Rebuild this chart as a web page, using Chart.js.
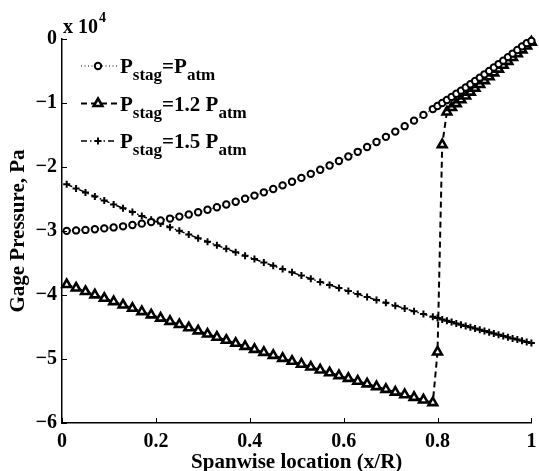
<!DOCTYPE html>
<html>
<head>
<meta charset="utf-8">
<script src="https://cdn.jsdelivr.net/npm/chart.js@4"></script>
<style>
  html, body { margin: 0; padding: 0; background: #fff; }
  #wrap { width: 539px; height: 471px; position: relative; }
</style>
</head>
<body>
<div id="wrap"><canvas id="chart"></canvas></div>
<script>
// spanwise stations (x/R)
const spanX = [
  0.01, 0.03, 0.05, 0.07, 0.09, 0.11, 0.13, 0.15, 0.17, 0.19,
  0.21, 0.23, 0.25, 0.27, 0.29, 0.31, 0.33, 0.35, 0.37, 0.39,
  0.41, 0.43, 0.45, 0.47, 0.49, 0.51, 0.53, 0.55, 0.57, 0.59,
  0.61, 0.63, 0.65, 0.67, 0.69, 0.71, 0.73, 0.75, 0.77, 0.79,
  0.80, 0.81, 0.82, 0.83, 0.84, 0.85, 0.86, 0.87, 0.88, 0.89,
  0.90, 0.91, 0.92, 0.93, 0.94, 0.95, 0.96, 0.97, 0.98, 0.99, 1.00
];

// gage pressure, units of 10^4 Pa
const pStagAtm = [
  -2.998, -2.991, -2.983, -2.972, -2.959, -2.944, -2.927, -2.907, -2.885, -2.861,
  -2.835, -2.806, -2.775, -2.742, -2.707, -2.669, -2.629, -2.587, -2.543, -2.496,
  -2.447, -2.396, -2.343, -2.287, -2.230, -2.170, -2.107, -2.043, -1.976, -1.907,
  -1.836, -1.763, -1.687, -1.609, -1.529, -1.447, -1.362, -1.275, -1.186, -1.095,
  -1.048, -1.001, -0.953, -0.905, -0.856, -0.807, -0.757, -0.707, -0.656, -0.604,
  -0.552, -0.499, -0.446, -0.392, -0.338, -0.283, -0.228, -0.171, -0.115, -0.065, -0.030
];

const pStag12 = [
  -3.837, -3.891, -3.945, -3.998, -4.051, -4.104, -4.156, -4.208, -4.259, -4.310,
  -4.361, -4.412, -4.462, -4.512, -4.561, -4.610, -4.659, -4.707, -4.755, -4.803,
  -4.850, -4.897, -4.943, -4.990, -5.035, -5.081, -5.126, -5.171, -5.215, -5.259,
  -5.303, -5.347, -5.389, -5.432, -5.475, -5.517, -5.558, -5.599, -5.640, -5.681,
  -4.890, -1.650, -1.140, -1.070, -1.010, -0.950, -0.890, -0.830, -0.770, -0.710,
  -0.650, -0.590, -0.530, -0.470, -0.410, -0.350, -0.290, -0.230, -0.170, -0.110, -0.050
];

const pStag15 = [
  -2.270, -2.334, -2.397, -2.460, -2.522, -2.584, -2.644, -2.705, -2.765, -2.824,
  -2.883, -2.941, -2.998, -3.055, -3.112, -3.168, -3.223, -3.278, -3.332, -3.386,
  -3.439, -3.491, -3.543, -3.595, -3.646, -3.696, -3.746, -3.795, -3.843, -3.891,
  -3.939, -3.986, -4.032, -4.078, -4.123, -4.167, -4.211, -4.255, -4.298, -4.340,
  -4.361, -4.382, -4.403, -4.423, -4.444, -4.464, -4.484, -4.504, -4.524, -4.544,
  -4.563, -4.583, -4.602, -4.621, -4.640, -4.659, -4.678, -4.696, -4.715, -4.733, -4.751
];

const xTicks = [0, 0.2, 0.4, 0.6, 0.8, 1];
const xTickLabels = ['0', '0.2', '0.4', '0.6', '0.8', '1'];
const yTicks = [-6, -5, -4, -3, -2, -1, 0];
const yTickLabels = ['\u22126', '\u22125', '\u22124', '\u22123', '\u22122', '\u22121', '0'];

// legend text pieces: [text, isSubscript]
const legendParts = [
  [['P', false], ['stag', true], ['=P', false], ['atm', true]],
  [['P', false], ['stag', true], ['=1.2 P', false], ['atm', true]],
  [['P', false], ['stag', true], ['=1.5 P', false], ['atm', true]]
];

const serif = "'Liberation Serif', 'Times New Roman', serif";
const mainFont = 'bold 21px ' + serif;
const subFont = 'bold 17px ' + serif;

const toPts = arr => arr.map((v, i) => ({ x: spanX[i], y: v }));

function drawMarker(ctx, style, r, x, y) {
  ctx.beginPath();
  if (style === 'circle') {
    ctx.arc(x, y, r, 0, Math.PI * 2);
    ctx.fill(); ctx.stroke();
  } else if (style === 'triangle') {
    for (let k = 0; k < 3; k++) {
      const a = k * 2 * Math.PI / 3;
      const px = x + Math.sin(a) * r, py = y - Math.cos(a) * r;
      k ? ctx.lineTo(px, py) : ctx.moveTo(px, py);
    }
    ctx.closePath();
    ctx.fill(); ctx.stroke();
  } else {
    ctx.moveTo(x - r, y); ctx.lineTo(x + r, y);
    ctx.moveTo(x, y - r); ctx.lineTo(x, y + r);
    ctx.stroke();
  }
}

// inward tick marks, legend with subscripts, x 10^4 multiplier
const decorPlugin = {
  id: 'decor',
  afterDraw(chart) {
    const { ctx, chartArea: a, scales } = chart;
    ctx.save();
    ctx.strokeStyle = '#000';
    ctx.lineWidth = 1;
    yTicks.forEach(v => {
      const py = Math.round(scales.y.getPixelForValue(v)) + 0.5;
      ctx.beginPath(); ctx.moveTo(a.left, py); ctx.lineTo(a.left + 5, py); ctx.stroke();
    });
    xTicks.forEach(v => {
      const px = Math.round(scales.x.getPixelForValue(v)) + 0.5;
      ctx.beginPath(); ctx.moveTo(px, a.bottom); ctx.lineTo(px, a.bottom - 5); ctx.stroke();
    });

    // multiplier
    ctx.fillStyle = '#000';
    ctx.textBaseline = 'alphabetic';
    ctx.font = 'bold 20px ' + serif;
    ctx.fillText('x 10', 63, 33);
    const w = ctx.measureText('x 10').width;
    ctx.font = 'bold 14px ' + serif;
    ctx.fillText('4', 63 + w + 1, 22);

    // legend
    chart.data.datasets.forEach((ds, i) => {
      const cy = 66 + i * 37.5;
      ctx.save();
      ctx.strokeStyle = ds.borderColor;
      ctx.lineWidth = ds.borderWidth;
      ctx.setLineDash(ds.borderDash || []);
      ctx.beginPath(); ctx.moveTo(81, cy); ctx.lineTo(117, cy); ctx.stroke();
      ctx.setLineDash([]);
      ctx.fillStyle = ds.pointBackgroundColor;
      ctx.strokeStyle = ds.pointBorderColor;
      ctx.lineWidth = ds.pointBorderWidth;
      drawMarker(ctx, ds.pointStyle, ds.pointRadius, 98, cy);
      ctx.restore();

      let tx = 120;
      const base = cy + 7;
      ctx.fillStyle = '#000';
      legendParts[i].forEach(([txt, sub]) => {
        ctx.font = sub ? subFont : mainFont;
        ctx.fillText(txt, tx, sub ? base + 7 : base);
        tx += ctx.measureText(txt).width;
      });
    });
    ctx.restore();
  }
};

const tickFont = { family: serif, size: 20, weight: 'bold' };
const titleFont = { family: serif, size: 21, weight: 'bold' };

new Chart(document.getElementById('chart'), {
  type: 'line',
  data: {
    datasets: [
      {
        label: 'Pstag=Patm',
        data: toPts(pStagAtm),
        borderColor: '#000',
        borderWidth: 1,
        borderDash: [1, 2.5],
        pointStyle: 'circle',
        pointRadius: 3.2,
        pointBorderWidth: 2,
        pointBorderColor: '#000',
        pointBackgroundColor: '#fff',
        clip: false
      },
      {
        label: 'Pstag=1.2 Patm',
        data: toPts(pStag12),
        borderColor: '#000',
        borderWidth: 2,
        borderDash: [6, 4],
        pointStyle: 'triangle',
        pointRadius: 5,
        pointBorderWidth: 2.6,
        pointBorderColor: '#000',
        pointBackgroundColor: '#fff',
        clip: false
      },
      {
        label: 'Pstag=1.5 Patm',
        data: toPts(pStag15),
        borderColor: '#000',
        borderWidth: 1.5,
        borderDash: [6, 3, 1.5, 3],
        pointStyle: 'cross',
        pointRadius: 3.5,
        pointBorderWidth: 2,
        pointBorderColor: '#000',
        pointBackgroundColor: '#000',
        clip: false
      }
    ]
  },
  options: {
    responsive: true,
    maintainAspectRatio: false,
    animation: false,
    events: [],
    layout: { padding: { top: 39, right: 3, left: 0, bottom: 0 } },
    plugins: { legend: { display: false }, tooltip: { enabled: false } },
    elements: { line: { tension: 0, fill: false } },
    scales: {
      x: {
        type: 'linear',
        min: 0,
        max: 1,
        afterFit: s => { s.height = 48; s.paddingLeft = 0; s.paddingRight = 0; },
        afterBuildTicks: s => { s.ticks = xTicks.map(v => ({ value: v })); },
        grid: { display: false, drawTicks: false },
        border: { display: true, color: '#000', width: 1.5 },
        ticks: {
          color: '#000',
          font: { ...tickFont, lineHeight: 1 },
          padding: 9,
          maxRotation: 0,
          callback: (v, i) => xTickLabels[i]
        },
        title: {
          display: true,
          text: 'Spanwise location (x/R)',
          color: '#000',
          font: { ...titleFont, lineHeight: 0.8 },
          padding: { top: 0, bottom: 0 }
        }
      },
      y: {
        type: 'linear',
        min: -6,
        max: 0,
        afterFit: s => { s.width = 62; s.paddingTop = 0; s.paddingBottom = 0; },
        afterBuildTicks: s => { s.ticks = yTicks.map(v => ({ value: v })); },
        grid: { display: false, drawTicks: false },
        border: { display: true, color: '#000', width: 1.5 },
        ticks: {
          color: '#000',
          font: tickFont,
          padding: 5,
          callback: (v, i) => yTickLabels[i]
        },
        title: {
          display: true,
          text: 'Gage Pressure, Pa',
          color: '#000',
          font: titleFont,
          padding: { top: 6, bottom: 0 }
        }
      }
    }
  },
  plugins: [decorPlugin]
});
</script>
</body>
</html>
